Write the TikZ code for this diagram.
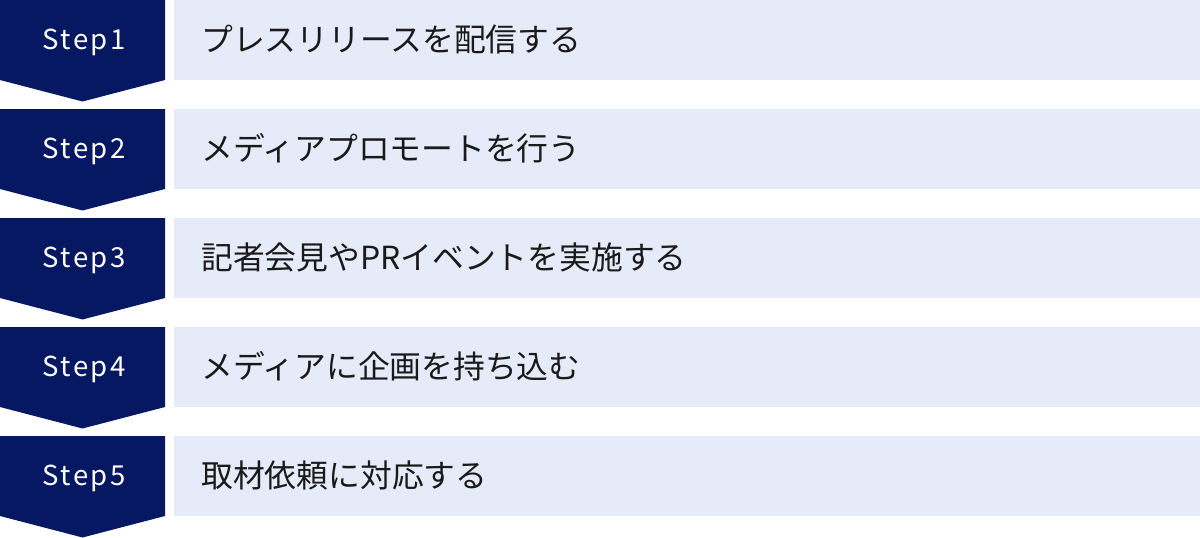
\documentclass[tikz,border=0pt]{standalone}
\usepackage{fontspec}
\setmainfont{Noto Sans CJK JP}
\newfontfamily\stepfont[LetterSpace=9]{Noto Sans CJK JP}
\definecolor{navy}{HTML}{061861}
\definecolor{pale}{HTML}{E5EBF8}
\definecolor{ink}{HTML}{1A1A1A}
\tikzset{
  chev/.style={fill=navy, draw=none},
  bar/.style={fill=pale, draw=none},
  steplabel/.style={text=white, font=\stepfont\fontsize{27.5}{27.5}\selectfont, anchor=center, inner sep=0pt},
  bartext/.style={text=ink, font=\fontsize{31.8}{31.8}\selectfont, anchor=west, inner sep=0pt},
}
\begin{document}
\begin{tikzpicture}[x=1pt,y=-1pt]
\useasboundingbox (0,0) rectangle (1200,538);
\foreach \i/\t in {0/{プレスリリースを配信する},1/{メディアプロモートを行う},2/{記者会見やPRイベントを実施する},3/{メディアに企画を持ち込む},4/{取材依頼に対応する}}{
  \pgfmathsetmacro{\yy}{109*\i}
  \pgfmathtruncatemacro{\n}{\i+1}
  \fill[chev] (0,\yy) -- (165,\yy) -- (165,\yy+80) -- (82.5,\yy+101.5) -- (0,\yy+80) -- cycle;
  \fill[bar] (174,\yy) rectangle (1200,\yy+80);
  \node[steplabel] (s\n) at (84,\yy+42) {Step\n};
  \node[bartext] (t\n) at (201,\yy+39) {\t};
}
\end{tikzpicture}
\end{document}
